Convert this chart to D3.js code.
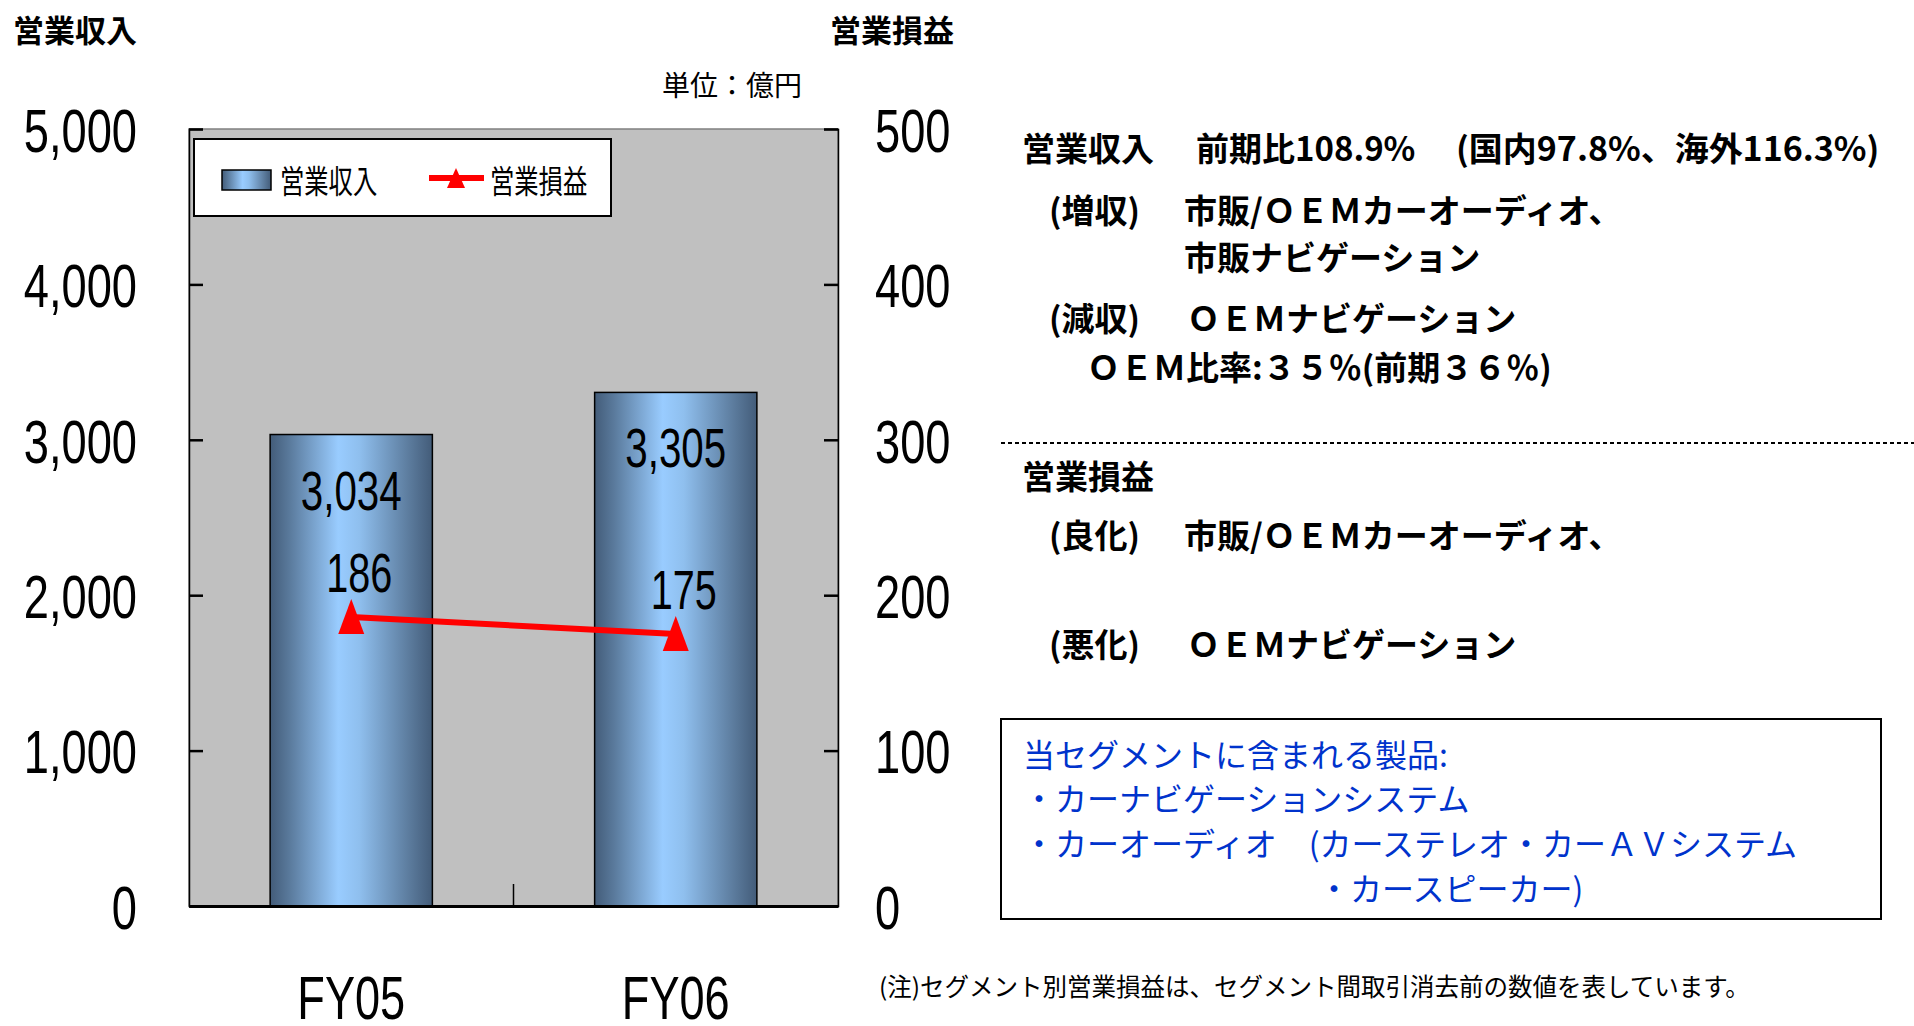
<!DOCTYPE html>
<html>
<head>
<meta charset="utf-8">
<script src="https://cdn.jsdelivr.net/npm/d3@7"></script>
<style>
  body { margin: 0; background: #fff; }
  svg { display: block; }
</style>
</head>
<body>
<div id="chart"></div>
<script>
// data
var categories = ['FY05', 'FY06'];
var revenue = [3034, 3305];   // 営業収入 (億円)
var profit = [186, 175];      // 営業損益 (億円)
var revenueTicks = [0, 1000, 2000, 3000, 4000, 5000];
var profitTicks = [0, 100, 200, 300, 400, 500];
var seriesNames = ['営業収入', '営業損益'];
var unitLabel = '単位：億円';

// commentary text
var revenueHead = ['営業収入', '前期比108.9%', '(国内97.8%、海外116.3%)'];
var revenueUp = ['(増収)', '市販/ＯＥＭカーオーディオ、', '市販ナビゲーション'];
var revenueDown = ['(減収)', 'ＯＥＭナビゲーション'];
var oemRatio = 'ＯＥＭ比率:３５％(前期３６％)';
var profitHead = '営業損益';
var profitUp = ['(良化)', '市販/ＯＥＭカーオーディオ、'];
var profitDown = ['(悪化)', 'ＯＥＭナビゲーション'];
var products = ['当セグメントに含まれる製品:', '・カーナビゲーションシステム',
  '・カーオーディオ　(カーステレオ・カーＡＶシステム', '・カースピーカー)'];
var footnote = '(注)セグメント別営業損益は、セグメント間取引消去前の数値を表しています。';

var W = 1914, H = 1026;
var jp = '"Noto Sans CJK JP", sans-serif';
var num = '"Liberation Sans", Arial, sans-serif';

var svg = d3.select('#chart').append('svg').attr('width', W).attr('height', H);

// text helper, k squeezes horizontally
function label(g, x, y, str, size, o) {
  o = o || {};
  return g.append('text')
    .attr('transform', 'translate(' + x + ',' + y + ') scale(' + (o.k || 1) + ',1)')
    .attr('text-anchor', o.anchor || 'start')
    .attr('font-family', o.family || jp)
    .attr('font-size', size)
    .attr('font-weight', o.bold ? 'bold' : 'normal')
    .attr('fill', o.fill || '#000')
    .text(str);
}

// gradient for the bars
var grad = svg.append('defs').append('linearGradient')
  .attr('id', 'barGrad').attr('x1', 0).attr('x2', 1).attr('y1', 0).attr('y2', 0);
[[0, '#435c79'], [0.12, '#5a7a9c'], [0.42, '#99ccff'], [0.55, '#8fbfee'], [0.85, '#5d7d9f'], [1, '#435c79']]
  .forEach(function(s) { grad.append('stop').attr('offset', s[0]).attr('stop-color', s[1]); });

// plot area
var pL = 189, pR = 838, pT = 129, pB = 906;

var x = d3.scaleBand().domain(categories).range([pL, pR])
  .paddingInner(0.5).paddingOuter(0.25);
var yL = d3.scaleLinear().domain([0, 5000]).range([pB, pT]);
var yR = d3.scaleLinear().domain([0, 500]).range([pB, pT]);
var cx = function(i) { return x(categories[i]) + x.bandwidth() / 2; };

svg.append('rect')
  .attr('x', pL).attr('y', pT).attr('width', pR - pL).attr('height', pB - pT)
  .attr('fill', '#c0c0c0').attr('stroke', '#808080').attr('stroke-width', 1.5);

// left axis
var axL = svg.append('g').attr('transform', 'translate(' + pL + ',0)')
  .call(d3.axisLeft(yL).tickValues(revenueTicks).tickSize(-14).tickFormat(d3.format(',')));
axL.select('.domain').attr('stroke', '#000').attr('stroke-width', 1.5);
axL.selectAll('.tick line').attr('stroke', '#000').attr('stroke-width', 2.5);
axL.selectAll('.tick text')
  .attr('x', null).attr('dy', '0.36em')
  .attr('transform', 'translate(-52,0) scale(0.73,1)')
  .attr('font-family', num).attr('font-size', 62).attr('fill', '#000');

// right axis
var axR = svg.append('g').attr('transform', 'translate(' + pR + ',0)')
  .call(d3.axisRight(yR).tickValues(profitTicks).tickSize(-14));
axR.select('.domain').attr('stroke', '#000').attr('stroke-width', 1.5);
axR.selectAll('.tick line').attr('stroke', '#000').attr('stroke-width', 2.5);
axR.selectAll('.tick text')
  .attr('x', null).attr('dy', '0.36em')
  .attr('transform', 'translate(37,0) scale(0.73,1)')
  .attr('font-family', num).attr('font-size', 62).attr('fill', '#000');

// bars
svg.append('g').selectAll('rect').data(revenue).enter().append('rect')
  .attr('x', function(d, i) { return x(categories[i]); })
  .attr('y', function(d) { return yL(d); })
  .attr('width', x.bandwidth())
  .attr('height', function(d) { return pB - yL(d); })
  .attr('fill', 'url(#barGrad)').attr('stroke', '#000').attr('stroke-width', 1.5);

// bottom axis
var axB = svg.append('g').attr('transform', 'translate(0,' + pB + ')')
  .call(d3.axisBottom(x).tickSize(0).tickFormat(''));
axB.select('.domain').attr('stroke', '#000').attr('stroke-width', 3);
axB.selectAll('.tick').remove();
svg.append('line')
  .attr('x1', (pL + pR) / 2).attr('x2', (pL + pR) / 2)
  .attr('y1', pB).attr('y2', pB - 22)
  .attr('stroke', '#000').attr('stroke-width', 1.5);

categories.forEach(function(c, i) {
  label(svg, cx(i), 1019, c, 61, { family: num, anchor: 'middle', k: 0.74 });
});

// bar labels
revenue.forEach(function(d, i) {
  label(svg, cx(i), yL(d) + 75, d3.format(',')(d), 56, { family: num, anchor: 'middle', k: 0.72 });
});

// profit line
var line = d3.line()
  .x(function(d, i) { return cx(i); })
  .y(function(d) { return yR(d); });
svg.append('path').datum(profit).attr('d', line)
  .attr('fill', 'none').attr('stroke', '#ff0000').attr('stroke-width', 6);

var tri = 'M0,-18L13,17L-13,17Z';
svg.append('g').selectAll('path').data(profit).enter().append('path')
  .attr('d', tri)
  .attr('transform', function(d, i) { return 'translate(' + cx(i) + ',' + yR(d) + ')'; })
  .attr('fill', '#ff0000');

profit.forEach(function(d, i) {
  label(svg, cx(i) + 8, yR(d) - 25, d, 55, { family: num, anchor: 'middle', k: 0.72 });
});

// legend
var lg = svg.append('g');
lg.append('rect').attr('x', 194).attr('y', 139).attr('width', 417).attr('height', 77)
  .attr('fill', '#fff').attr('stroke', '#000').attr('stroke-width', 2);
lg.append('rect').attr('x', 222).attr('y', 170).attr('width', 49).attr('height', 20)
  .attr('fill', 'url(#barGrad)').attr('stroke', '#000').attr('stroke-width', 1.5);
label(lg, 280, 193, seriesNames[0], 32, { k: 0.76 });
lg.append('line').attr('x1', 429).attr('x2', 484).attr('y1', 178).attr('y2', 178)
  .attr('stroke', '#ff0000').attr('stroke-width', 6);
lg.append('path').attr('d', 'M0,-10L9,10L-9,10Z').attr('transform', 'translate(456,178)')
  .attr('fill', '#ff0000');
label(lg, 490, 193, seriesNames[1], 32, { k: 0.76 });

// axis titles and unit
label(svg, 13, 42, seriesNames[0], 31, { bold: true });
label(svg, 830, 42, seriesNames[1], 31, { bold: true });
label(svg, 662, 96, unitLabel, 28);

// commentary
var t = svg.append('g');
label(t, 1022, 161, revenueHead[0], 33, { bold: true });
label(t, 1196, 161, revenueHead[1], 33, { bold: true });
label(t, 1456, 161, revenueHead[2], 33, { bold: true, k: 1.03 });
label(t, 1049, 223, revenueUp[0], 33, { bold: true });
label(t, 1184, 223, revenueUp[1], 33, { bold: true });
label(t, 1184, 270, revenueUp[2], 33, { bold: true });
label(t, 1049, 331, revenueDown[0], 33, { bold: true });
label(t, 1187, 331, revenueDown[1], 33, { bold: true });
label(t, 1087, 380, oemRatio, 33, { bold: true });

t.append('line').attr('x1', 1001).attr('x2', W).attr('y1', 443).attr('y2', 443)
  .attr('stroke', '#000').attr('stroke-width', 2).attr('stroke-dasharray', '4,3');

label(t, 1022, 489, profitHead, 33, { bold: true });
label(t, 1049, 548, profitUp[0], 33, { bold: true });
label(t, 1184, 548, profitUp[1], 33, { bold: true });
label(t, 1049, 657, profitDown[0], 33, { bold: true });
label(t, 1187, 657, profitDown[1], 33, { bold: true });

// products box
t.append('rect').attr('x', 1001).attr('y', 719).attr('width', 880).attr('height', 200)
  .attr('fill', '#fff').attr('stroke', '#000').attr('stroke-width', 2);
var py = [767, 811, 856, 901];
products.forEach(function(s, i) {
  label(t, i === 3 ? 1318 : 1023, py[i], s, 32, { fill: '#0033cc' });
});

label(svg, 879, 996, footnote, 24.5);
</script>
</body>
</html>
